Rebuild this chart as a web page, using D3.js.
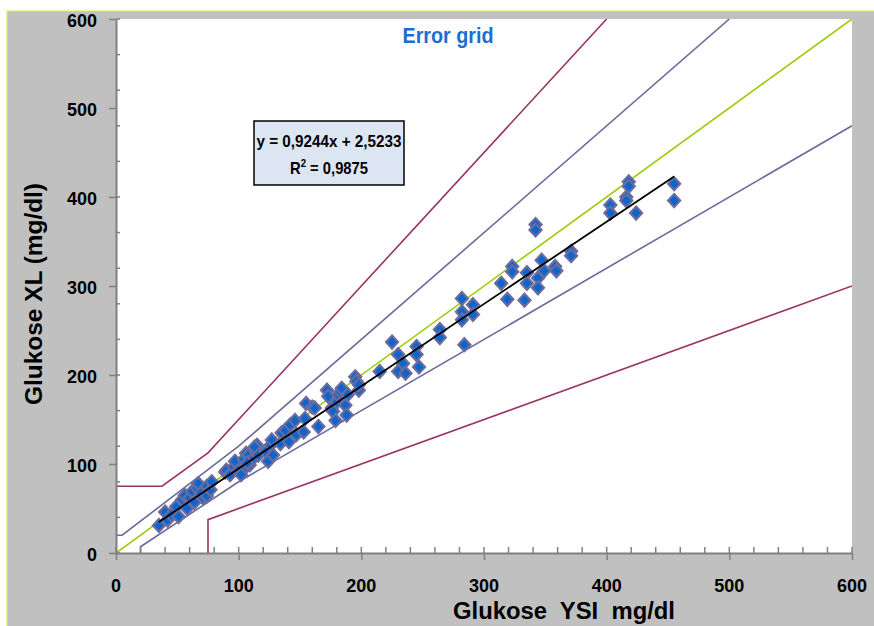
<!DOCTYPE html>
<html>
<head>
<meta charset="utf-8">
<script src="https://cdn.jsdelivr.net/npm/d3@7"></script>
<style>
  body { margin: 0; background: #fff; }
  text { font-family: "Liberation Sans", Arial, sans-serif; font-weight: bold; }
</style>
</head>
<body>
<div id="chart"></div>
<script>
// reference measurements (YSI) and device readings (XL), mg/dl
const ysi = [35, 40, 42, 45, 49, 51, 54, 56, 58, 60, 62, 64, 66, 67, 69, 71, 74, 74, 77, 78,
  89, 90, 93, 93, 96, 97, 100, 102, 104, 106, 106, 108, 109, 111, 113, 115, 116,
  107, 113, 116, 122, 124, 126, 127, 128, 134, 135, 138, 141, 142, 146, 147, 153, 154, 155,
  160, 162, 165, 172, 173, 176, 177, 179, 180, 181, 183, 184, 187, 188, 189, 195, 196, 198, 198,
  215, 225, 230, 230, 234, 236, 245, 245, 247,
  264, 264, 282, 282, 282, 284, 291, 291, 314, 319, 323, 323, 333, 335, 335,
  342, 342, 344, 344, 347, 349, 358, 359, 371, 371, 403, 403, 416, 416, 418, 418, 424, 455, 455];
const xl = [31, 46, 37, 43, 52, 41, 60, 65, 50, 62, 69, 57, 73, 78, 67, 62, 75, 64, 71, 80,
  91, 93, 89, 88, 97, 103, 93, 88, 105, 97, 112, 110, 99, 105, 116, 121, 114,
  101, 119, 110, 114, 103, 121, 127, 110, 123, 135, 138, 125, 144, 149, 133, 136, 151, 168,
  164, 163, 142, 183, 176, 163, 159, 149, 170, 178, 181, 185, 166, 155, 178, 198, 193, 183, 189,
  204, 237, 223, 204, 213, 202, 232, 223, 209,
  251, 242, 286, 271, 262, 234, 279, 268, 303, 285, 322, 316, 284, 315, 303,
  369, 363, 309, 298, 329, 317, 322, 317, 339, 334, 391, 382, 400, 396, 417, 412, 382, 415, 396];

// error grid boundaries
const zoneUpperOuter = [[0, 75], [37.5, 75], [75, 112.5], [400, 600]];
const zoneLowerOuter = [[75, 0], [75, 37.5], [600, 300]];
const zoneUpperInner = [[0, 20], [5, 20], [100, 120], [500, 600]];
const zoneLowerInner = [[20, 0], [20, 7], [100, 80], [600, 480]];
const identity = [[0, 0], [600, 600]];

// trendline from the spreadsheet
const slope = 0.9244, intercept = 2.5233;
const eqLabel = "y = 0,9244x + 2,5233";
const r2Value = "0,9875";

const xMajor = d3.range(0, 601, 100);
const yMajor = d3.range(0, 601, 100);
const xMinor = d3.range(0, 601, 20);
const yMinor = d3.range(0, 601, 40);

const W = 874, H = 626;
const svg = d3.select("#chart").append("svg").attr("width", W).attr("height", H);

// chart area
svg.append("rect")
  .attr("x", 6.5).attr("y", 10.5).attr("width", W).attr("height", H)
  .attr("fill", "#c0c0c0").attr("stroke", "#f7f2a8").attr("stroke-width", 1.5);

const x = d3.scaleLinear().domain([0, 600]).range([116, 852]);
const y = d3.scaleLinear().domain([0, 600]).range([553, 19]);

svg.append("rect")
  .attr("x", x(0)).attr("y", y(600))
  .attr("width", x(600) - x(0)).attr("height", y(0) - y(600))
  .attr("fill", "#fff");

svg.append("clipPath").attr("id", "plot")
  .append("rect")
  .attr("x", x(0)).attr("y", y(600))
  .attr("width", x(600) - x(0)).attr("height", y(0) - y(600));

const line = d3.line().x(d => x(d[0])).y(d => y(d[1]));
const g = svg.append("g").attr("clip-path", "url(#plot)");

function boundary(pts, color) {
  g.append("path").datum(pts)
    .attr("d", line)
    .attr("fill", "none")
    .attr("stroke", color)
    .attr("stroke-width", 1.6);
}
boundary(zoneUpperOuter, "#993366");
boundary(zoneLowerOuter, "#993366");
boundary(zoneUpperInner, "#6a6a9c");
boundary(zoneLowerInner, "#6a6a9c");
boundary(identity, "#99cc00");

// points
const pts = ysi.map((v, i) => [v, xl[i]]);
const diamond = "M0,-6.5L6,0L0,6.5L-6,0Z";
g.selectAll("path.pt")
  .data(pts)
  .enter()
  .append("path")
  .attr("class", "pt")
  .attr("d", diamond)
  .attr("transform", d => `translate(${x(d[0])},${y(d[1])})`)
  .attr("fill", "#0a66cc")
  .attr("stroke", "#6b6b9e")
  .attr("stroke-width", 2.2);

// regression line over the data range
const xExt = d3.extent(ysi);
g.append("path")
  .datum(xExt.map(v => [v, slope * v + intercept]))
  .attr("d", line)
  .attr("fill", "none")
  .attr("stroke", "#000")
  .attr("stroke-width", 1.8);

// axes
const axisColor = "#808080";
const xAxis = svg.append("g").attr("transform", `translate(0,${y(0)})`)
  .call(d3.axisBottom(x).tickValues(xMajor).tickSizeInner(7).tickSizeOuter(0).tickFormat(""));
const yAxis = svg.append("g").attr("transform", `translate(${x(0)},0)`)
  .call(d3.axisLeft(y).tickValues(yMajor).tickSizeInner(7).tickSizeOuter(0).tickFormat(""));
[xAxis, yAxis].forEach(a => {
  a.select(".domain").attr("stroke", axisColor).attr("stroke-width", 2);
  a.selectAll(".tick line").attr("stroke", axisColor).attr("stroke-width", 1.5);
});

svg.append("g").selectAll("line")
  .data(xMinor)
  .enter().append("line")
  .attr("x1", d => x(d)).attr("x2", d => x(d))
  .attr("y1", y(0)).attr("y2", y(0) - 6)
  .attr("stroke", axisColor).attr("stroke-width", 1.5);
svg.append("g").selectAll("line")
  .data(yMinor)
  .enter().append("line")
  .attr("x1", x(0)).attr("x2", x(0) + 4)
  .attr("y1", d => y(d)).attr("y2", d => y(d))
  .attr("stroke", axisColor).attr("stroke-width", 1.5);

svg.append("g").selectAll("text")
  .data(xMajor)
  .enter().append("text")
  .attr("x", d => x(d)).attr("y", 592)
  .attr("text-anchor", "middle")
  .attr("font-size", 18)
  .text(d => d);
svg.append("g").selectAll("text")
  .data(yMajor)
  .enter().append("text")
  .attr("x", 97).attr("y", d => y(d))
  .attr("dy", "0.45em")
  .attr("text-anchor", "end")
  .attr("font-size", 18)
  .text(d => d);

// titles
svg.append("text")
  .attr("x", 564).attr("y", 619)
  .attr("text-anchor", "middle")
  .attr("font-size", 23)
  .style("white-space", "pre")
  .attr("textLength", 222).attr("lengthAdjust", "spacingAndGlyphs")
  .text("Glukose  YSI  mg/dl");

svg.append("text")
  .attr("transform", "translate(42,294) rotate(-90)")
  .attr("text-anchor", "middle")
  .attr("font-size", 23)
  .attr("textLength", 222).attr("lengthAdjust", "spacingAndGlyphs")
  .text("Glukose XL (mg/dl)");

svg.append("text")
  .attr("x", 448).attr("y", 43)
  .attr("text-anchor", "middle")
  .attr("font-size", 22)
  .attr("fill", "#1a6ed0")
  .attr("textLength", 91).attr("lengthAdjust", "spacingAndGlyphs")
  .text("Error grid");

// trendline label box
svg.append("rect")
  .attr("x", 254).attr("y", 121).attr("width", 150).attr("height", 64)
  .attr("fill", "#dce6f2").attr("stroke", "#000").attr("stroke-width", 1.5);
svg.append("text")
  .attr("x", 329).attr("y", 147)
  .attr("text-anchor", "middle")
  .attr("font-size", 17)
  .attr("textLength", 145).attr("lengthAdjust", "spacingAndGlyphs")
  .text(eqLabel);
const r2 = svg.append("text")
  .attr("x", 290).attr("y", 174)
  .attr("font-size", 17);
r2.append("tspan").text("R");
r2.append("tspan").attr("font-size", 11).attr("dy", -7).text("2");
r2.append("tspan").attr("dy", 7).text(" = " + r2Value);
r2.attr("textLength", 78).attr("lengthAdjust", "spacingAndGlyphs");
</script>
</body>
</html>
